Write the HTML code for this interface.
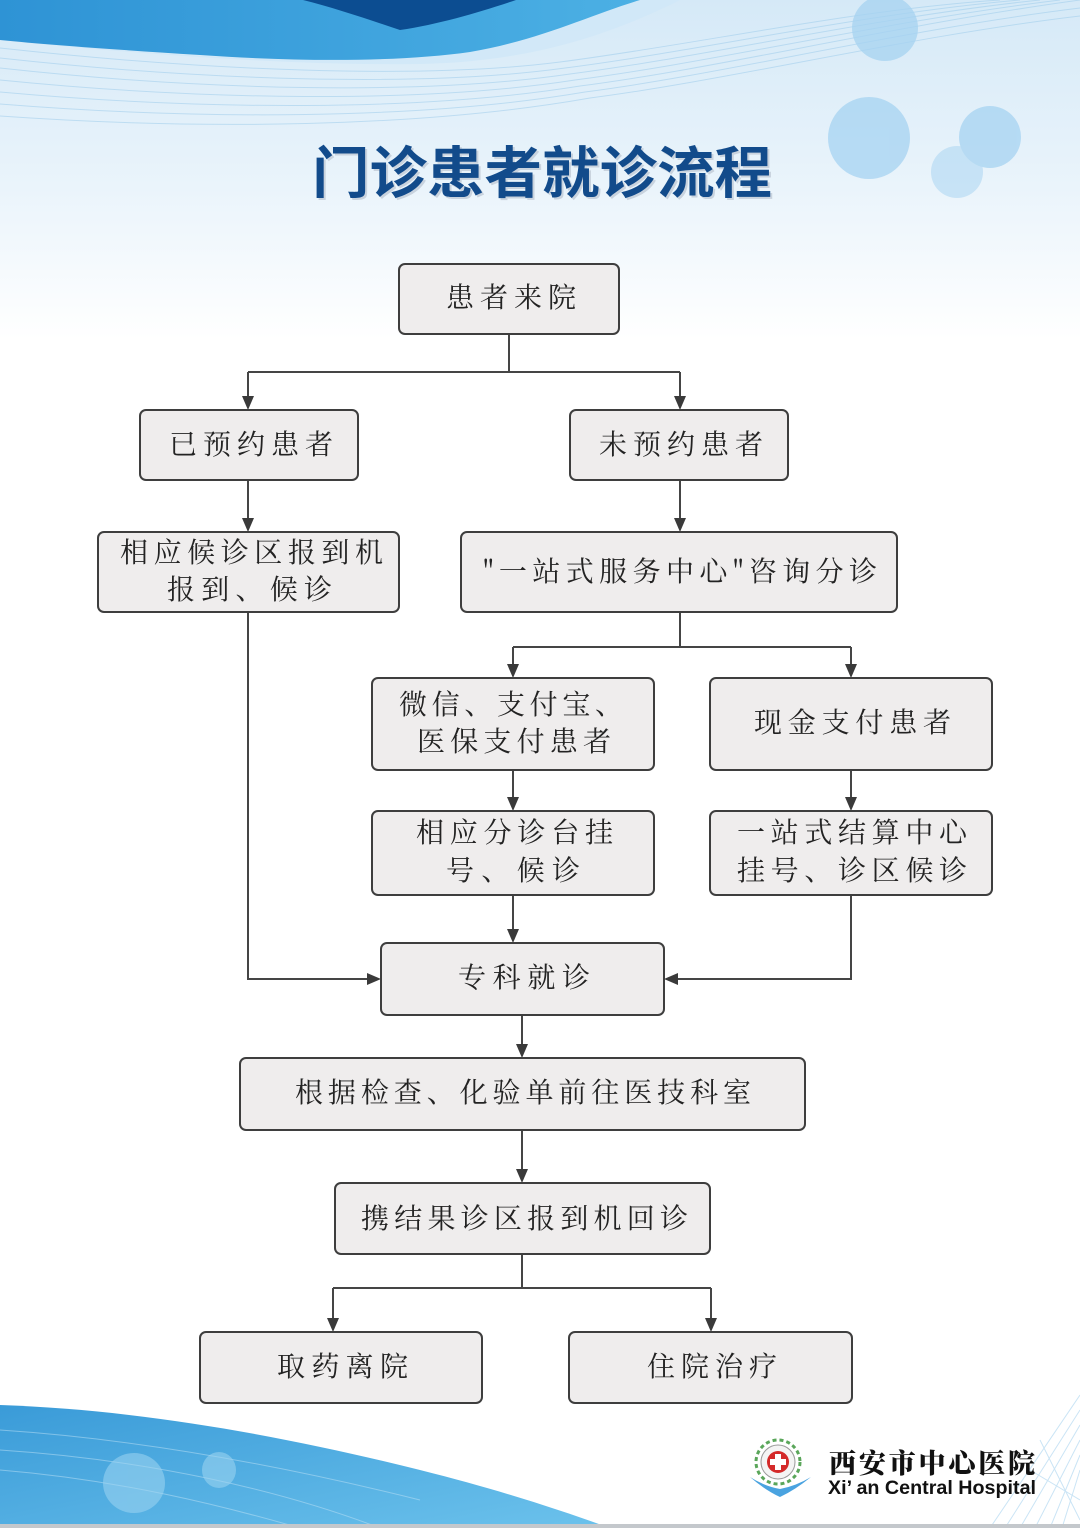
<!DOCTYPE html>
<html><head><meta charset="utf-8">
<style>
html,body{margin:0;padding:0;background:#fff;}
svg{display:block;}
.bx{fill:#efeded;stroke:#3e3e3e;stroke-width:2;}
.ln{fill:none;stroke:#454545;stroke-width:2;}
.ah{fill:#3a3a3a;}
.t{font-family:"Noto Serif CJK SC","Liberation Serif",serif;font-size:28px;fill:#232323;}
</style></head>
<body>
<svg width="1080" height="1528" viewBox="0 0 1080 1528" xmlns="http://www.w3.org/2000/svg">
<defs>
<linearGradient id="topg" x1="0" y1="0" x2="0" y2="1">
<stop offset="0" stop-color="#d5e9f7"/>
<stop offset="0.55" stop-color="#eaf4fb"/>
<stop offset="1" stop-color="#ffffff"/>
</linearGradient>
<linearGradient id="blueg" x1="0" y1="0" x2="1" y2="0">
<stop offset="0" stop-color="#2e93d5"/>
<stop offset="1" stop-color="#4cb0e4"/>
</linearGradient>
<linearGradient id="botg" x1="0" y1="0" x2="1" y2="1">
<stop offset="0" stop-color="#3a9bd8"/>
<stop offset="1" stop-color="#6cc2ec"/>
</linearGradient>
</defs>

<!-- background -->
<rect width="1080" height="1528" fill="#ffffff"/>
<rect width="1080" height="340" fill="url(#topg)"/>

<!-- top light swoosh lines -->
<g fill="none" stroke="#9fcdec" stroke-width="1" opacity="0.55">
<path d="M0,48 C200,70 420,80 560,62 C700,44 850,10 1000,0"/>
<path d="M0,58 C200,80 420,88 565,68 C705,50 860,14 1020,0"/>
<path d="M0,68 C200,90 420,96 570,74 C710,56 870,18 1040,0"/>
<path d="M0,80 C200,100 420,104 575,80 C715,62 880,22 1060,0"/>
<path d="M0,92 C200,110 420,112 580,86 C720,68 890,26 1080,0"/>
<path d="M0,104 C200,120 420,120 585,92 C725,74 900,30 1080,8"/>
<path d="M0,116 C200,130 420,128 590,98 C730,80 910,36 1080,16"/>
</g>
<path d="M0,40 C120,52 280,66 420,64 C520,62 600,40 680,0 H560 C520,22 480,45 420,54 C320,66 160,56 0,38 Z" fill="#cfe7f7" opacity="0.8"/>
<!-- blue wave -->
<path d="M0,0 H640 C590,15 540,40 470,52 C400,62 300,62 200,55 C120,50 50,45 0,40 Z" fill="url(#blueg)"/>
<path d="M303,0 H516 C480,12 440,24 400,30 C370,20 335,8 303,0 Z" fill="#0c4d91"/>

<!-- top-right circles -->
<g fill="#a6d3f1" opacity="0.75">
<circle cx="885" cy="28" r="33"/>
<circle cx="869" cy="138" r="41"/>
<circle cx="990" cy="137" r="31"/>
<circle cx="957" cy="172" r="26" opacity="0.7"/>
</g>

<!-- title -->
<text x="544" y="195" text-anchor="middle" font-family="'Noto Sans CJK SC','WenQuanYi Zen Hei',sans-serif" font-weight="bold" font-size="56" fill="#c9d3de" textLength="460" lengthAdjust="spacingAndGlyphs">门诊患者就诊流程</text>
<text x="542" y="193" text-anchor="middle" font-family="'Noto Sans CJK SC','WenQuanYi Zen Hei',sans-serif" font-weight="bold" font-size="56" fill="#124b8b" textLength="460" lengthAdjust="spacingAndGlyphs">门诊患者就诊流程</text>

<!-- bottom wave -->
<path d="M0,1405 C150,1410 300,1440 420,1470 C500,1490 560,1510 610,1528 H0 Z" fill="url(#botg)"/>
<g fill="none" stroke="#bfe2f6" stroke-width="1" opacity="0.5">
<path d="M0,1430 C150,1440 300,1470 420,1500"/>
<path d="M0,1450 C150,1460 280,1490 380,1528"/>
<path d="M0,1470 C120,1480 220,1505 300,1528"/>
</g>
<g fill="#9fd6f2" opacity="0.55">
<ellipse cx="134" cy="1483" rx="31" ry="30"/>
<ellipse cx="219" cy="1470" rx="17" ry="18"/>
</g>
<!-- bottom right lines -->
<g fill="none" stroke="#a8d3ef" stroke-width="1" opacity="0.6">
<path d="M1080,1395 L990,1528"/>
<path d="M1080,1410 L1005,1528"/>
<path d="M1080,1425 L1020,1528"/>
<path d="M1080,1440 L1035,1528"/>
<path d="M1080,1455 L1050,1528"/>
<path d="M1080,1470 L1062,1528"/>
<path d="M1040,1440 L1080,1520"/>
<path d="M1030,1470 L1080,1500"/>
</g>
<rect x="0" y="1524" width="1080" height="4" fill="#c4c8cc"/>

<!-- logo -->
<g>
<path d="M750,1477 Q765,1490 780,1497 Q795,1490 811,1477 Q796,1486 780,1489 Q764,1486 750,1477 Z" fill="#4aa3e0"/>
<circle cx="778" cy="1462" r="22" fill="#ffffff" stroke="#5aa65a" stroke-width="3" stroke-dasharray="4 3"/>
<circle cx="778" cy="1462" r="17" fill="#f4f4f4" stroke="#999" stroke-width="1"/>
<circle cx="778" cy="1462" r="11" fill="#d42a2a"/>
<path d="M775,1454 h6 v5 h5 v6 h-5 v5 h-6 v-5 h-5 v-6 h5 Z" fill="#ffffff"/>
</g>
<text x="829" y="1473" font-family="'Noto Serif CJK SC','Noto Sans CJK SC',serif" font-weight="900" font-size="27" fill="#111" textLength="206" lengthAdjust="spacing">西安市中心医院</text>
<text x="828" y="1494" font-family="'Liberation Sans Narrow','Liberation Sans',sans-serif" font-weight="bold" font-size="19" fill="#111" textLength="208" lengthAdjust="spacingAndGlyphs">Xi’ an Central Hospital</text>

<!-- connectors -->
<g class="ln">
<path d="M509,334 V372"/>
<path d="M248,372 H680"/>
<path d="M248,372 V397"/>
<path d="M680,372 V397"/>
<path d="M248,480 V519"/>
<path d="M680,480 V519"/>
<path d="M680,612 V647"/>
<path d="M513,647 H851"/>
<path d="M513,647 V665"/>
<path d="M851,647 V665"/>
<path d="M513,770 V798"/>
<path d="M851,770 V798"/>
<path d="M513,895 V930"/>
<path d="M248,612 V979 H368"/>
<path d="M851,895 V979 H677"/>
<path d="M522,1015 V1045"/>
<path d="M522,1130 V1170"/>
<path d="M522,1254 V1288"/>
<path d="M333,1288 H711"/>
<path d="M333,1288 V1319"/>
<path d="M711,1288 V1319"/>
</g>
<g class="ah">
<path d="M242,396 L254,396 L248,410 Z"/>
<path d="M674,396 L686,396 L680,410 Z"/>
<path d="M242,518 L254,518 L248,532 Z"/>
<path d="M674,518 L686,518 L680,532 Z"/>
<path d="M507,664 L519,664 L513,678 Z"/>
<path d="M845,664 L857,664 L851,678 Z"/>
<path d="M507,797 L519,797 L513,811 Z"/>
<path d="M845,797 L857,797 L851,811 Z"/>
<path d="M507,929 L519,929 L513,943 Z"/>
<path d="M367,973 L367,985 L381,979 Z"/>
<path d="M678,973 L678,985 L664,979 Z"/>
<path d="M516,1044 L528,1044 L522,1058 Z"/>
<path d="M516,1169 L528,1169 L522,1183 Z"/>
<path d="M327,1318 L339,1318 L333,1332 Z"/>
<path d="M705,1318 L717,1318 L711,1332 Z"/>
</g>

<!-- boxes -->
<rect class="bx" x="399" y="264" width="220" height="70" rx="6"/>
<rect class="bx" x="140" y="410" width="218" height="70" rx="6"/>
<rect class="bx" x="570" y="410" width="218" height="70" rx="6"/>
<rect class="bx" x="98" y="532" width="301" height="80" rx="6"/>
<rect class="bx" x="461" y="532" width="436" height="80" rx="6"/>
<rect class="bx" x="372" y="678" width="282" height="92" rx="6"/>
<rect class="bx" x="710" y="678" width="282" height="92" rx="6"/>
<rect class="bx" x="372" y="811" width="282" height="84" rx="6"/>
<rect class="bx" x="710" y="811" width="282" height="84" rx="6"/>
<rect class="bx" x="381" y="943" width="283" height="72" rx="6"/>
<rect class="bx" x="240" y="1058" width="565" height="72" rx="6"/>
<rect class="bx" x="335" y="1183" width="375" height="71" rx="6"/>
<rect class="bx" x="200" y="1332" width="282" height="71" rx="6"/>
<rect class="bx" x="569" y="1332" width="283" height="71" rx="6"/>

<!-- labels -->
<g class="t">
<text x="446" y="307" textLength="130" lengthAdjust="spacing">患者来院</text>
<text x="169" y="454" textLength="164" lengthAdjust="spacing">已预约患者</text>
<text x="599" y="454" textLength="164" lengthAdjust="spacing">未预约患者</text>
<text x="120" y="562" textLength="263" lengthAdjust="spacing">相应候诊区报到机</text>
<text x="167" y="599" textLength="165" lengthAdjust="spacing">报到、候诊</text>
<text x="483" y="581" textLength="394" lengthAdjust="spacing">"一站式服务中心"咨询分诊</text>
<text x="399" y="714" textLength="224" lengthAdjust="spacing">微信、支付宝、</text>
<text x="417" y="751" textLength="194" lengthAdjust="spacing">医保支付患者</text>
<text x="754" y="732" textLength="197" lengthAdjust="spacing">现金支付患者</text>
<text x="416" y="842" textLength="197" lengthAdjust="spacing">相应分诊台挂</text>
<text x="446" y="880" textLength="134" lengthAdjust="spacing">号、候诊</text>
<text x="737" y="842" textLength="230" lengthAdjust="spacing">一站式结算中心</text>
<text x="737" y="880" textLength="230" lengthAdjust="spacing">挂号、诊区候诊</text>
<text x="458" y="987" textLength="132" lengthAdjust="spacing">专科就诊</text>
<text x="295" y="1102" textLength="456" lengthAdjust="spacing">根据检查、化验单前往医技科室</text>
<text x="361" y="1228" textLength="327" lengthAdjust="spacing">携结果诊区报到机回诊</text>
<text x="277" y="1376" textLength="131" lengthAdjust="spacing">取药离院</text>
<text x="647" y="1376" textLength="130" lengthAdjust="spacing">住院治疗</text>
</g>
</svg>
</body></html>
